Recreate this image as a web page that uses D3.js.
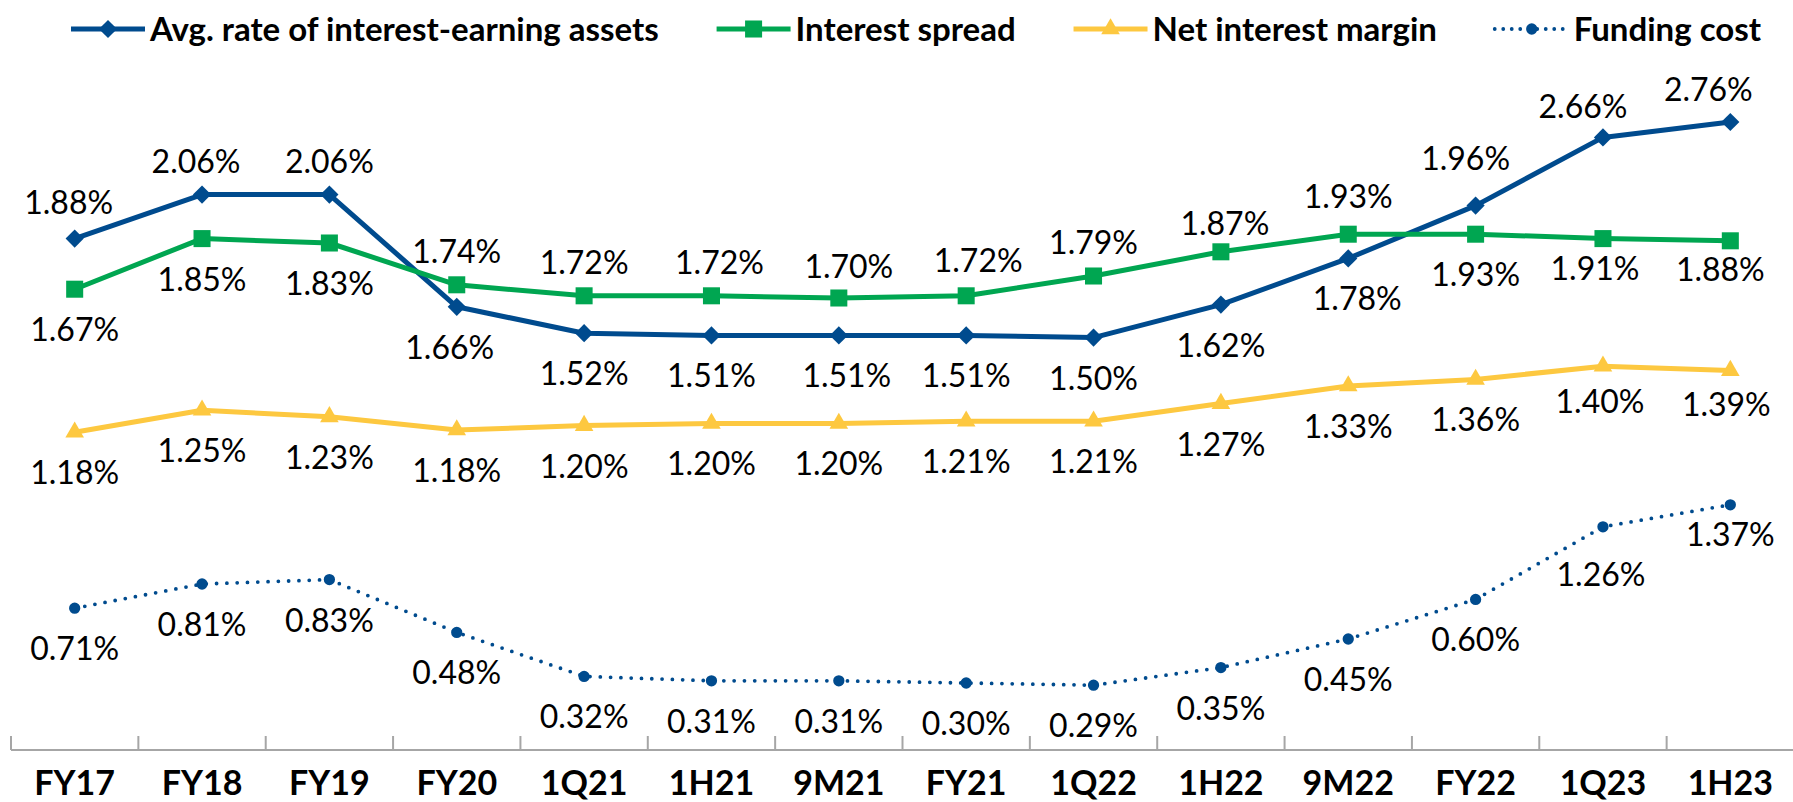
<!DOCTYPE html>
<html>
<head>
<meta charset="utf-8">
<script src="https://cdn.jsdelivr.net/npm/d3@7"></script>
<style>
  html, body { margin: 0; padding: 0; background: #ffffff; }
  svg { display: block; }
</style>
</head>
<body>
<svg id="chart" width="1793" height="802"></svg>
<script>
// ---------------- DATA ----------------
const categories = ["FY17","FY18","FY19","FY20","1Q21","1H21","9M21","FY21","1Q22","1H22","9M22","FY22","1Q23","1H23"];

// Values printed in the data labels (%)
const avgRateLabels  = [1.88, 2.06, 2.06, 1.66, 1.52, 1.51, 1.51, 1.51, 1.50, 1.62, 1.78, 1.96, 2.66, 2.76];
const spreadLabels   = [1.67, 1.85, 1.83, 1.74, 1.72, 1.72, 1.70, 1.72, 1.79, 1.87, 1.93, 1.93, 1.91, 1.88];
const nimLabels      = [1.18, 1.25, 1.23, 1.18, 1.20, 1.20, 1.20, 1.21, 1.21, 1.27, 1.33, 1.36, 1.40, 1.39];
const fundingLabels  = [0.71, 0.81, 0.83, 0.48, 0.32, 0.31, 0.31, 0.30, 0.29, 0.35, 0.45, 0.60, 1.26, 1.37];

const avgRatePlot = [2.37, 2.57, 2.57, 2.06, 1.94, 1.93, 1.93, 1.93, 1.92, 2.07, 2.28, 2.52, 2.83, 2.90];
const spreadPlot  = [2.14, 2.37, 2.35, 2.16, 2.11, 2.11, 2.10, 2.11, 2.20, 2.31, 2.39, 2.39, 2.37, 2.36];
const nimPlot     = [1.49, 1.59, 1.56, 1.50, 1.52, 1.53, 1.53, 1.54, 1.54, 1.62, 1.70, 1.73, 1.79, 1.77];
const fundingPlot = [0.69, 0.80, 0.82, 0.58, 0.38, 0.36, 0.36, 0.35, 0.34, 0.42, 0.55, 0.73, 1.06, 1.16];

// Label placement relative to the point
const avgRatePlace = ["above","above","above","below","below","below","below","below","below","below","below","above","above","above"];
const spreadPlace  = ["below","below","below","above","above","above","above","above","above","above","above","below","below","below"];
const nimPlace     = categories.map(() => "below");
const fundingPlace = categories.map(() => "below");

const seriesNames = ["Avg. rate of interest-earning assets", "Interest spread", "Net interest margin", "Funding cost"];

// ---------------- STYLE / LAYOUT ----------------
const W = 1793, H = 802;
const BLUE = "#004B8E", GREEN = "#00A651", YELLOW = "#FDC840", AXIS = "#A6A6A6";
const FONT = "Lato, 'Open Sans', 'DejaVu Sans', sans-serif";

const series = [
  { name: seriesNames[0], plot: avgRatePlot, labels: avgRateLabels, place: avgRatePlace, color: BLUE,   width: 5,   dash: null,   marker: "diamond" },
  { name: seriesNames[1], plot: spreadPlot,  labels: spreadLabels,  place: spreadPlace,  color: GREEN,  width: 5,   dash: null,   marker: "square" },
  { name: seriesNames[2], plot: nimPlot,     labels: nimLabels,     place: nimPlace,     color: YELLOW, width: 5,   dash: null,   marker: "triangle" },
  { name: seriesNames[3], plot: fundingPlot, labels: fundingLabels, place: fundingPlace, color: BLUE,   width: 3.8, dash: "0 10.3", marker: "circle" }
];

// small per-label nudges [dx, dy] (series index : point index)
const nudges = {
  "0:0": [-6, -3], "0:1": [-6, 0], "0:3": [-7, 0], "0:6": [8, 0], "0:10": [9, 0], "0:11": [-10, -14], "0:12": [-20, 3], "0:13": [-22, 1],
  "1:5": [8, 0], "1:6": [10, 2], "1:7": [12, -2], "1:9": [4, 5], "1:10": [0, -4], "1:12": [-8, -11], "1:13": [-10, -12],
  "2:12": [-3, -5], "2:13": [-4, -7],
  "3:12": [-2, 7], "3:13": [0, -11]
};

const svg = d3.select("#chart");

const x = d3.scaleBand().domain(categories).range([11, 1794]).paddingInner(0).paddingOuter(0);
const cx = c => x(c) + x.bandwidth() / 2;
const y = d3.scaleLinear().domain([0, 3]).range([760, 100]);

const AXIS_Y = 750;

// axis line + boundary ticks
const axisG = svg.append("g");
axisG.append("line")
  .attr("x1", x.range()[0]).attr("x2", x.range()[1])
  .attr("y1", AXIS_Y).attr("y2", AXIS_Y)
  .attr("stroke", AXIS).attr("stroke-width", 2);
const boundaries = categories.map(c => x(c));
axisG.selectAll("line.tick").data(boundaries).enter().append("line")
  .attr("class", "tick")
  .attr("x1", d => d).attr("x2", d => d)
  .attr("y1", AXIS_Y - 14).attr("y2", AXIS_Y)
  .attr("stroke", AXIS).attr("stroke-width", 2);

// category labels via d3 axis
const xAxis = d3.axisBottom(x).tickSize(0).tickPadding(0);
const xg = svg.append("g").attr("transform", `translate(0, ${AXIS_Y})`).call(xAxis);
xg.select(".domain").remove();
xg.selectAll("text")
  .attr("y", 45).attr("dy", 0)
  .style("font-family", FONT).style("font-weight", "bold").style("font-size", "34px").attr("fill", "#000");

// marker generator
function markerPath(type) {
  if (type === "diamond") return d3.symbol(d3.symbolSquare, 165)();
  if (type === "square") return d3.symbol(d3.symbolSquare, 290)();
  if (type === "triangle") return d3.symbol(d3.symbolTriangle, 150)();
  return d3.symbol(d3.symbolCircle, 100)();
}
function markerTransform(type, px, py) {
  let t = `translate(${px},${py})`;
  if (type === "diamond") t += " rotate(45)";
  return t;
}

const line = d3.line().x((d, i) => cx(categories[i])).y(d => y(d));

series.forEach((s, si) => {
  const g = svg.append("g");
  g.append("path")
    .datum(s.plot)
    .attr("d", line)
    .attr("fill", "none")
    .attr("stroke", s.color)
    .attr("stroke-width", s.width)
    .attr("stroke-linejoin", "round")
    .attr("stroke-linecap", s.dash ? "round" : "butt")
    .attr("stroke-dasharray", s.dash);

  g.selectAll("path.mk").data(s.plot).enter().append("path")
    .attr("class", "mk")
    .attr("d", markerPath(s.marker))
    .attr("transform", (d, i) => markerTransform(s.marker, cx(categories[i]), y(d)))
    .attr("fill", s.color);
});

// data labels
series.forEach((s, si) => {
  svg.append("g").selectAll("text").data(s.labels).enter().append("text")
    .attr("x", (d, i) => cx(categories[i]) + ((nudges[si + ":" + i] || [0, 0])[0]))
    .attr("y", (d, i) => y(s.plot[i]) + (s.place[i] === "above" ? -22 : 52) + ((nudges[si + ":" + i] || [0, 0])[1]))
    .attr("text-anchor", "middle")
    .style("font-family", FONT).style("font-size", "32px").attr("fill", "#000")
    .text(d => d3.format(".2f")(d) + "%");
});

// legend (flowed between a left start and right end)
const LEG_LEFT = 71, LEG_RIGHT = 1761, LEG_Y = 29, SWATCH = 74, SW_GAP = 5;
const legend = svg.append("g");
const items = series.map((s, si) => {
  const g = legend.append("g");
  g.append("line")
    .attr("x1", 0).attr("x2", SWATCH).attr("y1", LEG_Y).attr("y2", LEG_Y)
    .attr("stroke", s.color).attr("stroke-width", s.width)
    .attr("stroke-linecap", s.dash ? "round" : "butt")
    .attr("stroke-dasharray", s.dash ? "0 8.5" : null);
  g.append("path")
    .attr("d", markerPath(s.marker))
    .attr("transform", markerTransform(s.marker, SWATCH / 2, LEG_Y))
    .attr("fill", s.color);
  const t = g.append("text")
    .attr("x", SWATCH + SW_GAP).attr("y", LEG_Y + 12)
    .style("font-family", FONT).style("font-weight", "bold").style("font-size", "33px").attr("fill", "#000")
    .text(s.name);
  return { g, w: SWATCH + SW_GAP + t.node().getComputedTextLength() };
});
const totalW = d3.sum(items, d => d.w);
const gap = Math.max(20, (LEG_RIGHT - LEG_LEFT - totalW) / (items.length - 1));
let cur = LEG_LEFT;
items.forEach(it => { it.g.attr("transform", `translate(${cur},0)`); cur += it.w + gap; });
</script>
</body>
</html>
